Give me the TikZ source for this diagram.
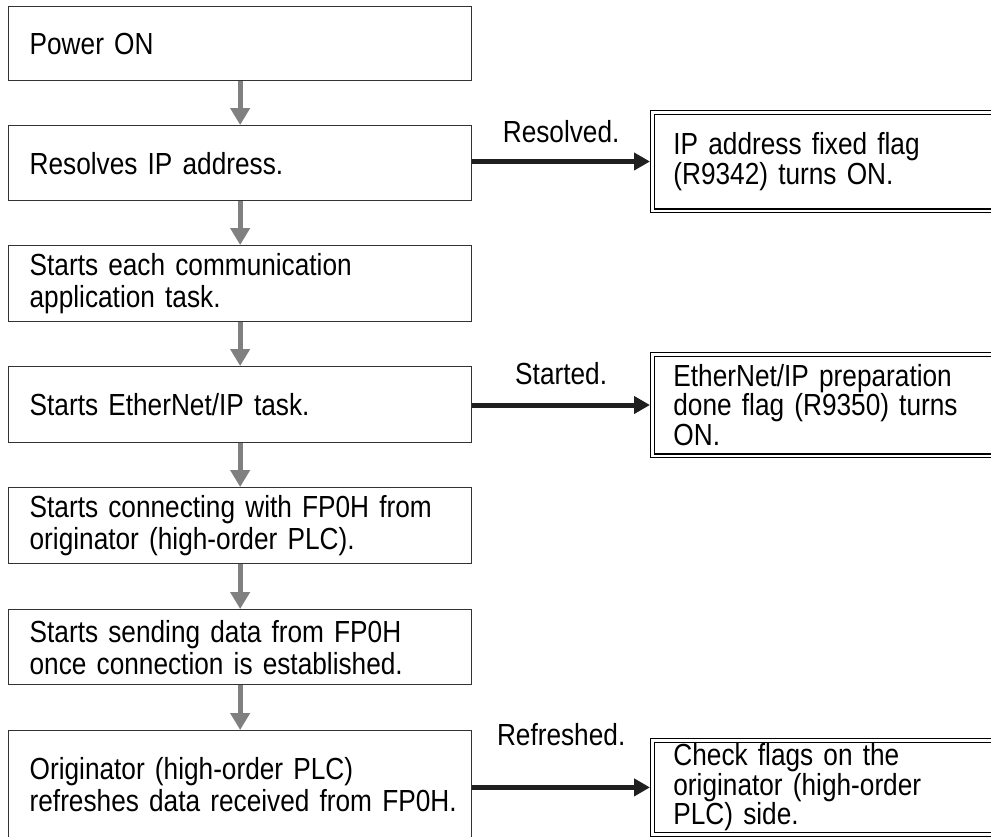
\documentclass[tikz,border=0pt]{standalone}
\usepackage{fontspec}
\setmainfont{Liberation Sans}
\newfontfamily\figfont[FakeStretch=0.86,WordSpace=0.86]{Liberation Sans}
\usetikzlibrary{arrows.meta}
\begin{document}
\begin{tikzpicture}[x=1pt,y=-1pt,
  lbox/.style={draw=black!80, line width=1.3pt, anchor=north west, minimum width=463pt,
    text width=421pt, inner xsep=21pt, inner ysep=0pt, align=left,
    font=\figfont\fontsize{30.5}{32}\selectfont},
  rbox/.style={draw=black, line width=1.3pt, double=white, double distance=2.2pt,
    anchor=north west, minimum width=380pt, text width=338pt, inner xsep=21pt,
    inner ysep=-3pt, outer sep=2.4pt, align=left, font=\figfont\fontsize{30.5}{29.5}\selectfont},
  flow/.style={draw=black!50, line width=5pt, -{Triangle[length=17pt,width=19pt]}},
  side/.style={draw=black!88, line width=5pt, -{Triangle[length=16pt,width=17pt]}},
  lbl/.style={font=\figfont\fontsize{30.5}{30}\selectfont, inner sep=0pt}
]
\useasboundingbox (0,0) rectangle (991,836);
\clip (0,0) rectangle (991,836);

% left column
\node[lbox, minimum height=74pt]  (b1) at (8,6)   {Power ON};
\node[lbox, minimum height=75pt]  (b2) at (8,125) {Resolves IP address.};
\node[lbox, minimum height=76pt]  (b3) at (8,245) {Starts each communication\\application task.};
\node[lbox, minimum height=76pt]  (b4) at (8,366) {Starts EtherNet/IP task.};
\node[lbox, minimum height=76pt]  (b5) at (8,487) {Starts connecting with FP0H from\\originator (high-order PLC).};
\node[lbox, minimum height=75pt]  (b6) at (8,609) {Starts sending data from FP0H\\once connection is established.};
\node[lbox, minimum height=108pt] (b7) at (8,730) {Originator (high-order PLC)\\\mbox{refreshes data received from FP0H.}};

% right column
\node[rbox, minimum height=98.2pt]  (rA) at (650,110) {IP address fixed flag\\(R9342) turns ON.};
\node[rbox, minimum height=101.2pt] (rB) at (650,352) {EtherNet/IP preparation\\done flag (R9350) turns\\ON.};
\node[rbox, minimum height=94pt]    (rC) at (650,738) {Check flags on the\\originator (high-order\\PLC) side.};

% flow arrows
\draw[flow] (b1.south) -- (b2.north);
\draw[flow] (b2.south) -- (b3.north);
\draw[flow] (b3.south) -- (b4.north);
\draw[flow] (b4.south) -- (b5.north);
\draw[flow] (b5.south) -- (b6.north);
\draw[flow] (b6.south) -- (b7.north);

% side arrows
\draw[side] (rA.west -| b2.east) -- (rA.west) node[lbl, midway, above=16pt] {Resolved.};
\draw[side] (rB.west -| b4.east) -- (rB.west) node[lbl, midway, above=18pt] {Started.};
\draw[side] (rC.west -| b7.east) -- (rC.west) node[lbl, midway, above=39pt] {Refreshed.};
\end{tikzpicture}
\end{document}
